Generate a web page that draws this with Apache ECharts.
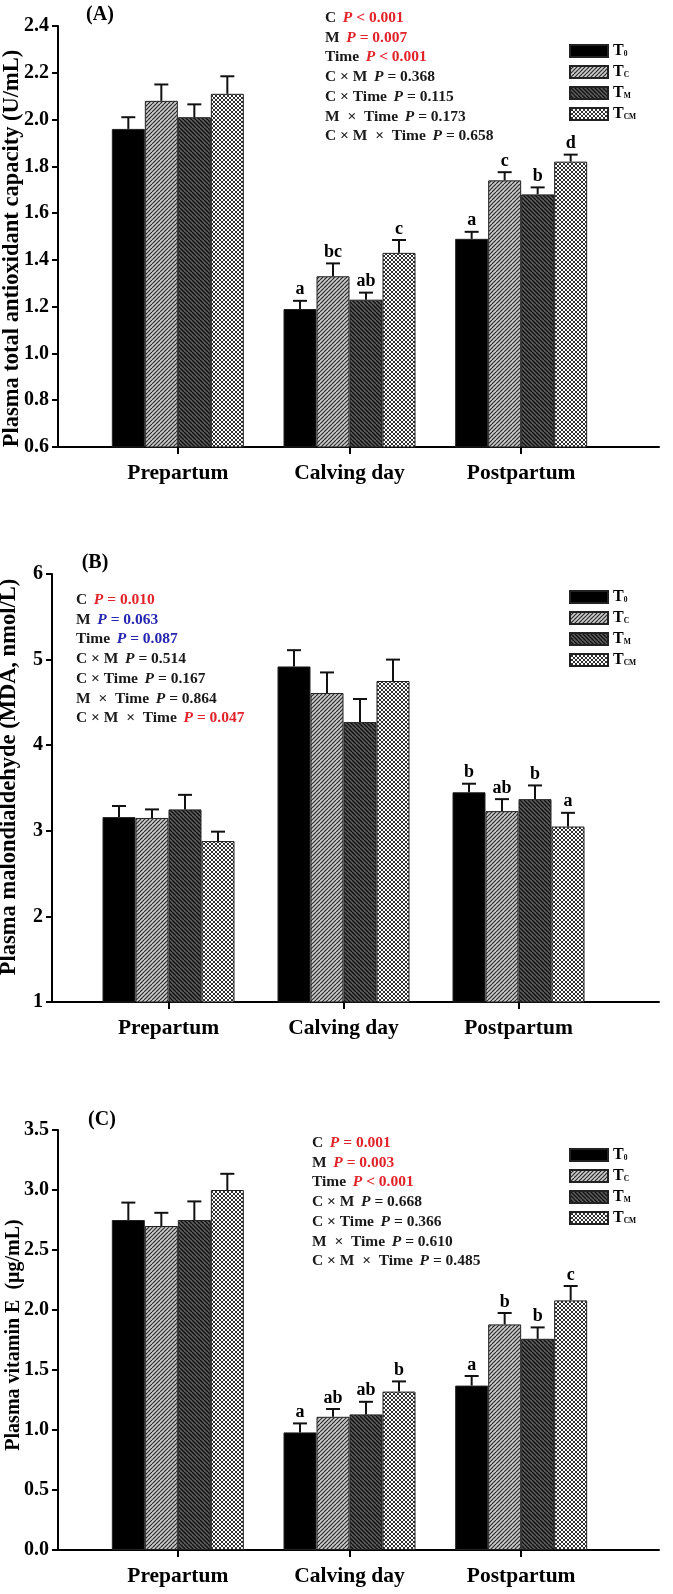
<!DOCTYPE html>
<html>
<head>
<meta charset="utf-8">
<script src="https://cdn.jsdelivr.net/npm/echarts@6/dist/echarts.min.js"></script>
<style>
  html, body { margin: 0; padding: 0; background: #fff; }
  #main { width: 673px; height: 1594px; }
</style>
</head>
<body>
<div id="main"></div>
<script>
// categories and treatment groups
const categories = ["Prepartum", "Calving day", "Postpartum"];
const groups = ["T0", "TC", "TM", "TCM"];
const groupSubs = ["0", "C", "M", "CM"];

// (A) total antioxidant capacity, rows = T0, TC, TM, TCM
const tacMeans = [[1.96, 1.19, 1.49], [2.08, 1.33, 1.74], [2.01, 1.23, 1.68], [2.11, 1.43, 1.82]];
const tacErrs = [[0.05, 0.035, 0.03], [0.07, 0.055, 0.035], [0.055, 0.03, 0.03], [0.075, 0.055, 0.03]];
const tacLetters = [["", "a", "a"], ["", "bc", "c"], ["", "ab", "b"], ["", "c", "d"]];
const tacAxis = [0.6, 2.4, 0.2];
const tacStats = [["C", "<", 0.001], ["M", "=", 0.007], ["Time", "<", 0.001], ["C × M", "=", 0.368],
  ["C × Time", "=", 0.115], ["M  ×  Time", "=", 0.173], ["C × M  ×  Time", "=", 0.658]];

// (B) malondialdehyde
const mdaMeans = [[3.16, 4.92, 3.45], [3.15, 4.61, 3.23], [3.25, 4.27, 3.37], [2.88, 4.75, 3.05]];
const mdaErrs = [[0.13, 0.19, 0.10], [0.10, 0.24, 0.14], [0.17, 0.27, 0.16], [0.11, 0.25, 0.16]];
const mdaLetters = [["", "", "b"], ["", "", "ab"], ["", "", "b"], ["", "", "a"]];
const mdaAxis = [1, 6, 1];
const mdaStats = [["C", "=", 0.010], ["M", "=", 0.063], ["Time", "=", 0.087], ["C × M", "=", 0.514],
  ["C × Time", "=", 0.167], ["M  ×  Time", "=", 0.864], ["C × M  ×  Time", "=", 0.047]];

// (C) vitamin E
const vitMeans = [[2.75, 0.98, 1.37], [2.70, 1.11, 1.88], [2.75, 1.13, 1.76], [3.00, 1.32, 2.08]];
const vitErrs = [[0.145, 0.075, 0.08], [0.11, 0.065, 0.095], [0.155, 0.105, 0.095], [0.135, 0.085, 0.12]];
const vitLetters = [["", "a", "a"], ["", "ab", "b"], ["", "ab", "b"], ["", "b", "c"]];
const vitAxis = [0, 3.5, 0.5];
const vitStats = [["C", "=", 0.001], ["M", "=", 0.003], ["Time", "<", 0.001], ["C × M", "=", 0.668],
  ["C × Time", "=", 0.366], ["M  ×  Time", "=", 0.610], ["C × M  ×  Time", "=", 0.485]];

const FONT = '"Liberation Serif", "Times New Roman", serif';
const BAR_W = 33;

// hatch fills like the SigmaPlot bars
function hatch(bg, ink, dirs, lw) {
  const c = document.createElement("canvas");
  c.width = 8; c.height = 8;
  const g = c.getContext("2d");
  g.fillStyle = bg; g.fillRect(0, 0, 8, 8);
  g.strokeStyle = ink; g.lineWidth = lw;
  dirs.forEach(d => {
    for (let k = -8; k <= 16; k += 4) {
      g.beginPath();
      if (d === "/") { g.moveTo(k, 8); g.lineTo(k + 8, 0); }
      else { g.moveTo(k, 0); g.lineTo(k + 8, 8); }
      g.stroke();
    }
  });
  return { image: c, repeat: "repeat" };
}
const fills = [
  "#000",
  hatch("#cccccc", "#2b2b2b", ["/"], 1.2),
  hatch("#5e5e5e", "#111", ["\\"], 1.3),
  hatch("#ffffff", "#1a1a1a", ["/", "\\"], 0.9)
];

// namePad: [right, left] padding, nudges the rotated title up/down
const panels = [
  { tag: "(A)", name: "Plasma total antioxidant capacity (U/mL)", means: tacMeans, errs: tacErrs, letters: tacLetters,
    axis: tacAxis, dec: 1, stats: tacStats, top: 26, bottom: 447, axisX: 58, catL: 92, catR: 607,
    nameGap: 34, nameSize: 22.5, namePad: [24, 0], legendTop: 38, tagX: 100, tagY: 15, pX: 325, pY: 18 },
  { tag: "(B)", name: "Plasma malondialdehyde (MDA, nmol/L)", means: mdaMeans, errs: mdaErrs, letters: mdaLetters,
    axis: mdaAxis, dec: 0, stats: mdaStats, top: 574, bottom: 1002, axisX: 52, catL: 81, catR: 606,
    nameGap: 31, nameSize: 22.5, namePad: [0, 22], legendTop: 584, tagX: 95, tagY: 563, pX: 76, pY: 600 },
  { tag: "(C)", name: "Plasma vitamin E  (μg/mL)", means: vitMeans, errs: vitErrs, letters: vitLetters,
    axis: vitAxis, dec: 1, stats: vitStats, top: 1130, bottom: 1550, axisX: 58, catL: 92, catR: 607,
    nameGap: 34, nameSize: 20, namePad: [0, 10], legendTop: 1142, tagX: 102, tagY: 1120, pX: 312, pY: 1143 }
];
const AXIS_END = 659;

const grid = [], xAxis = [], yAxis = [], series = [], legend = [], graphic = [];

panels.forEach((p, pi) => {
  const h = p.bottom - p.top;
  // outer grid: carries the visible axis lines and y labels
  grid.push({ left: p.axisX, top: p.top, width: AXIS_END - p.axisX, height: h, outerBoundsMode: "none" });
  // inner grid: category band for the bars
  grid.push({ left: p.catL, top: p.top, width: p.catR - p.catL, height: h, outerBoundsMode: "none" });

  xAxis.push({
    gridIndex: 2 * pi, type: "value", min: 0, max: 1,
    axisLine: { show: true, lineStyle: { color: "#000", width: 2 } },
    axisTick: { show: false }, axisLabel: { show: false }, splitLine: { show: false }
  });
  xAxis.push({
    gridIndex: 2 * pi + 1, type: "category", data: categories,
    axisLine: { show: false },
    axisTick: { show: true, alignWithLabel: true, length: 7, lineStyle: { color: "#000", width: 2 } },
    axisLabel: { color: "#000", fontFamily: FONT, fontWeight: "bold", fontSize: 21.5, margin: 15 }
  });
  yAxis.push({
    gridIndex: 2 * pi, type: "value", min: p.axis[0], max: p.axis[1], interval: p.axis[2],
    name: p.name, nameLocation: "middle", nameGap: p.nameGap, nameMoveOverlap: false,
    nameTextStyle: { color: "#000", fontFamily: FONT, fontWeight: "bold", fontSize: p.nameSize,
      padding: [0, p.namePad[0], 0, p.namePad[1]] },
    axisLine: { show: true, lineStyle: { color: "#000", width: 2 } },
    axisTick: { show: true, length: 6, lineStyle: { color: "#000", width: 2 } },
    axisLabel: { color: "#000", fontFamily: FONT, fontWeight: "bold", fontSize: 20, margin: 9,
      formatter: v => v.toFixed(p.dec) },
    splitLine: { show: false }
  });
  yAxis.push({
    gridIndex: 2 * pi + 1, type: "value", min: p.axis[0], max: p.axis[1], interval: p.axis[2], show: false
  });

  groups.forEach((g, i) => {
    series.push({
      name: g, type: "bar", xAxisIndex: 2 * pi + 1, yAxisIndex: 2 * pi + 1,
      barWidth: BAR_W, barGap: "0%", data: p.means[i],
      itemStyle: { color: fills[i], borderColor: "#222", borderWidth: 1 },
      emphasis: { disabled: true }
    });
    series.push({
      name: "err-" + g, type: "custom", xAxisIndex: 2 * pi + 1, yAxisIndex: 2 * pi + 1, z: 3,
      data: p.means[i].map((m, j) => [j, m, p.errs[i][j]]),
      renderItem: (params, api) => {
        const dx = (i - 1.5) * BAR_W;
        const base = api.coord([api.value(0), api.value(1)]);
        const tip = api.coord([api.value(0), api.value(1) + api.value(2)]);
        const x = base[0] + dx;
        const ln = { stroke: "#111", lineWidth: 2 };
        return {
          type: "group",
          children: [
            { type: "line", shape: { x1: x, y1: base[1], x2: x, y2: tip[1] }, style: ln },
            { type: "line", shape: { x1: x - 7, y1: tip[1], x2: x + 7, y2: tip[1] }, style: ln },
            { type: "text", x: x, y: tip[1] - 2,
              style: { text: p.letters[i][params.dataIndex], fill: "#000", font: "bold 18px " + FONT,
                align: "center", verticalAlign: "bottom" } }
          ]
        };
      }
    });
  });

  legend.push({
    data: groups, orient: "vertical", left: 564, top: p.legendTop, icon: "rect",
    itemWidth: 38, itemHeight: 12, itemGap: 5, selectedMode: false,
    formatter: name => "{t|T}{s|" + groupSubs[groups.indexOf(name)] + "}",
    textStyle: {
      lineHeight: 15,
      rich: {
        t: { fontFamily: FONT, fontWeight: "bold", fontSize: 16, color: "#000" },
        s: { fontFamily: FONT, fontWeight: "bold", fontSize: 7.5, color: "#000", verticalAlign: "bottom" }
      }
    }
  });

  graphic.push({
    type: "text", x: p.tagX, y: p.tagY,
    style: { text: p.tag, font: "bold 20px " + FONT, fill: "#000", align: "center", verticalAlign: "middle" }
  });

  p.stats.forEach((s, k) => {
    const col = s[2] < 0.05 ? "#e2232a" : s[2] < 0.1 ? "#2626b0" : "#1a1a1a";
    graphic.push({
      type: "text", x: p.pX, y: p.pY + k * 19.7,
      style: {
        text: "{n|" + s[0] + "}  {p|P}{v| " + s[1] + " " + s[2].toFixed(3) + "}",
        verticalAlign: "middle",
        rich: {
          n: { fontFamily: FONT, fontWeight: "bold", fontSize: 15.5, fill: "#1a1a1a" },
          p: { fontFamily: FONT, fontWeight: "bold", fontStyle: "italic", fontSize: 15.5, fill: col },
          v: { fontFamily: FONT, fontWeight: "bold", fontSize: 15.5, fill: col }
        }
      }
    });
  });
});

const myChart = echarts.init(document.getElementById("main"));
myChart.setOption({
  animation: false,
  backgroundColor: "#fff",
  grid, xAxis, yAxis, series, legend, graphic
});
</script>
</body>
</html>
